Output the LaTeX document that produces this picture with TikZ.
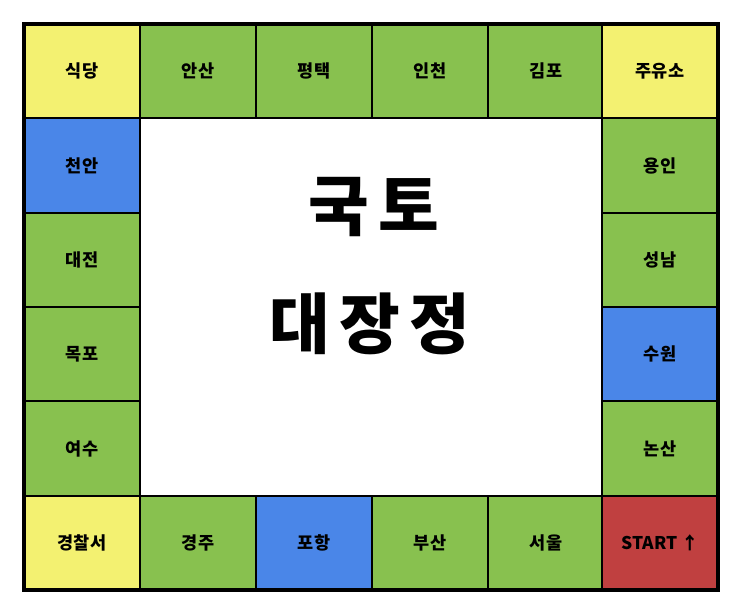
\documentclass[tikz,border=0pt]{standalone}
\usepackage{fontspec}
\setmainfont{Noto Sans CJK KR}
\newfontfamily\titlefont[LetterSpace=14]{Noto Sans CJK KR}
\usepackage{tikz}
\usetikzlibrary{positioning}
\usepackage{xcolor}
\definecolor{cellyellow}{HTML}{F3F171}
\definecolor{cellgreen}{HTML}{88C14F}
\definecolor{cellblue}{HTML}{4A86E8}
\definecolor{cellred}{HTML}{C04040}

\begin{document}
\begin{tikzpicture}[
  x=1pt, y=-1pt,
  every node/.style={font=\fontsize{17.5}{20}\selectfont\bfseries},
  cell/.style={draw, line width=2.3pt, rectangle,
               minimum width=116pt, minimum height=94.33pt,
               inner sep=0pt, align=center},
  title/.style={font=\titlefont\fontsize{66}{72}\selectfont\bfseries}
]
  \useasboundingbox (0,0) rectangle (743,611);

  % top row
  \node[cell, fill=cellyellow] (sikdang)   at (82,71.17)  {식당};
  \node[cell, fill=cellgreen]  (ansan)     at (198,71.17) {안산};
  \node[cell, fill=cellgreen]  (pyeongtaek) at (314,71.17) {평택};
  \node[cell, fill=cellgreen]  (incheon)   at (430,71.17) {인천};
  \node[cell, fill=cellgreen]  (gimpo)     at (546,71.17) {김포};
  \node[cell, fill=cellyellow] (juyuso)    at (660,71.17) {주유소};

  % left column
  \node[cell, fill=cellblue]   (cheonan)   at (82,165.5)  {천안};
  \node[cell, fill=cellgreen]  (daejeon)   at (82,259.83) {대전};
  \node[cell, fill=cellgreen]  (mokpo)     at (82,354.17) {목포};
  \node[cell, fill=cellgreen]  (yeosu)     at (82,448.5)  {여수};

  % right column
  \node[cell, fill=cellgreen]  (yongin)    at (660,165.5)  {용인};
  \node[cell, fill=cellgreen]  (seongnam)  at (660,259.83) {성남};
  \node[cell, fill=cellblue]   (suwon)     at (660,354.17) {수원};
  \node[cell, fill=cellgreen]  (nonsan)    at (660,448.5)  {논산};

  % bottom row
  \node[cell, fill=cellyellow] (police)    at (82,542.83)  {경찰서};
  \node[cell, fill=cellgreen]  (gyeongju)  at (198,542.83) {경주};
  \node[cell, fill=cellblue]   (pohang)    at (314,542.83) {포항};
  \node[cell, fill=cellgreen]  (busan)     at (430,542.83) {부산};
  \node[cell, fill=cellgreen]  (seoul)     at (546,542.83) {서울};
  \node[cell, fill=cellred]    (start)     at (660,542.83) {START ↑};

  \draw[line width=3.4pt] (24,24) rectangle (718,590);

  % centre title
  \node[title] (title1) at (374,207) {국토};
  \node[title] (title2) at (370,324) {대장정};
\end{tikzpicture}
\end{document}
